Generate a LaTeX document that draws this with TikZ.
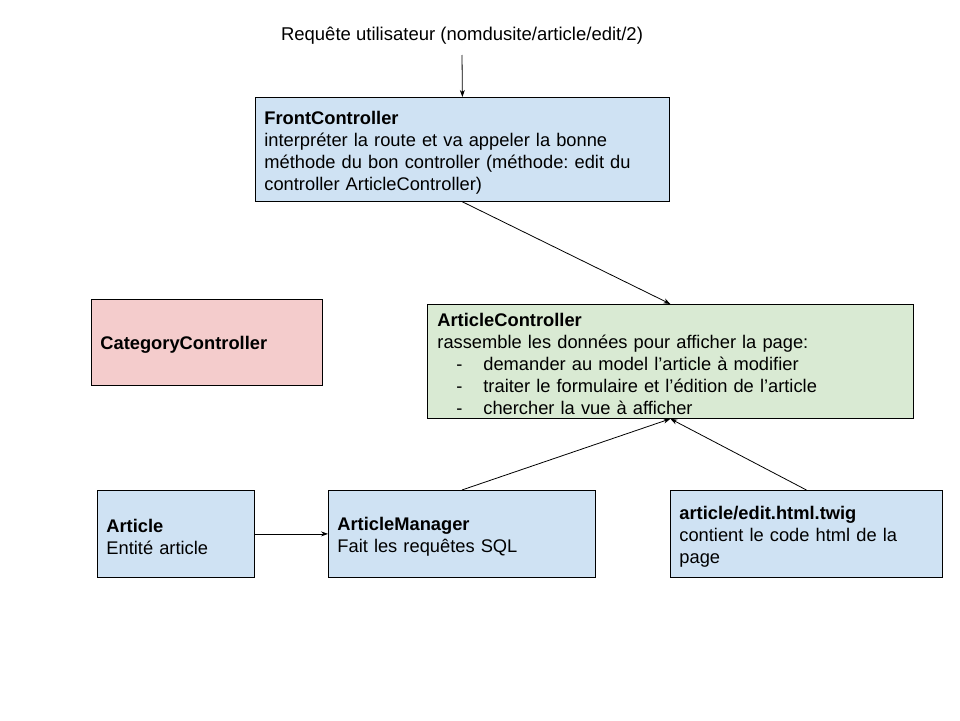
\documentclass[tikz,border=0pt]{standalone}
\usepackage{fontspec}
\setmainfont{Liberation Sans}
\usetikzlibrary{arrows.meta}
\definecolor{bluebox}{HTML}{CFE2F3}
\definecolor{greenbox}{HTML}{D9EAD3}
\definecolor{redbox}{HTML}{F4CCCC}
\frenchspacing
\newcommand{\topstrut}{\rule{0pt}{19pt}}
\begin{document}
\begin{tikzpicture}[x=1pt,y=-1pt,
  box/.style={draw=black,line width=0.8pt,inner xsep=9pt,inner ysep=0pt,align=left,
    font=\fontsize{18.3}{22}\selectfont,anchor=north west},
  conn/.style={line width=0.8pt,-{Stealth[length=7pt,width=5pt]}}]
\useasboundingbox[fill=white] (0,0) rectangle (960,720);
\node[font=\fontsize{18.5}{22}\selectfont,inner sep=2pt] (title) at (462,36) {Requête utilisateur (nomdusite/article/edit/2)};
\coordinate (t0) at (462,55);
\node[box,fill=bluebox,minimum width=414pt,minimum height=104pt,text width=396pt] (front) at (255,97)
  {\topstrut\textbf{FrontController}\\interpréter la route et va appeler la bonne\\méthode du bon controller (méthode: edit du\\controller ArticleController)};
\node[box,fill=greenbox,minimum width=486pt,minimum height=114pt,text width=466pt,inner xsep=10pt] (ac) at (427,304)
  {\topstrut\textbf{ArticleController}\\rassemble les données pour afficher la page:\\
   \makebox[46pt][l]{\hspace*{19pt}-}demander au model l’article à modifier\\
   \makebox[46pt][l]{\hspace*{19pt}-}traiter le formulaire et l’édition de l’article\\
   \makebox[46pt][l]{\hspace*{19pt}-}chercher la vue à afficher};
\node[box,fill=redbox,minimum width=231pt,minimum height=86pt,text width=213pt] (cat) at (91,299)
  {\topstrut\textbf{CategoryController}};
\node[box,fill=bluebox,minimum width=157pt,minimum height=87pt,text width=139pt] (art) at (97,490)
  {\topstrut\textbf{Article}\\Entité article};
\node[box,fill=bluebox,minimum width=267pt,minimum height=87pt,text width=249pt] (am) at (328,490)
  {\topstrut\textbf{ArticleManager}\\Fait les requêtes SQL};
\node[box,fill=bluebox,minimum width=272pt,minimum height=87pt,text width=254pt] (twig) at (670,490)
  {\topstrut\textbf{article/edit.html.twig}\\contient le code html de la\\page};
\draw[conn] (t0) -- (front.north);
\draw[conn] (front.south) -- (ac.north);
\draw[conn] (am.north) -- (ac.south);
\draw[conn] (twig.north) -- (ac.south);
\draw[conn] (art.east) -- (am.west);
\end{tikzpicture}
\end{document}
